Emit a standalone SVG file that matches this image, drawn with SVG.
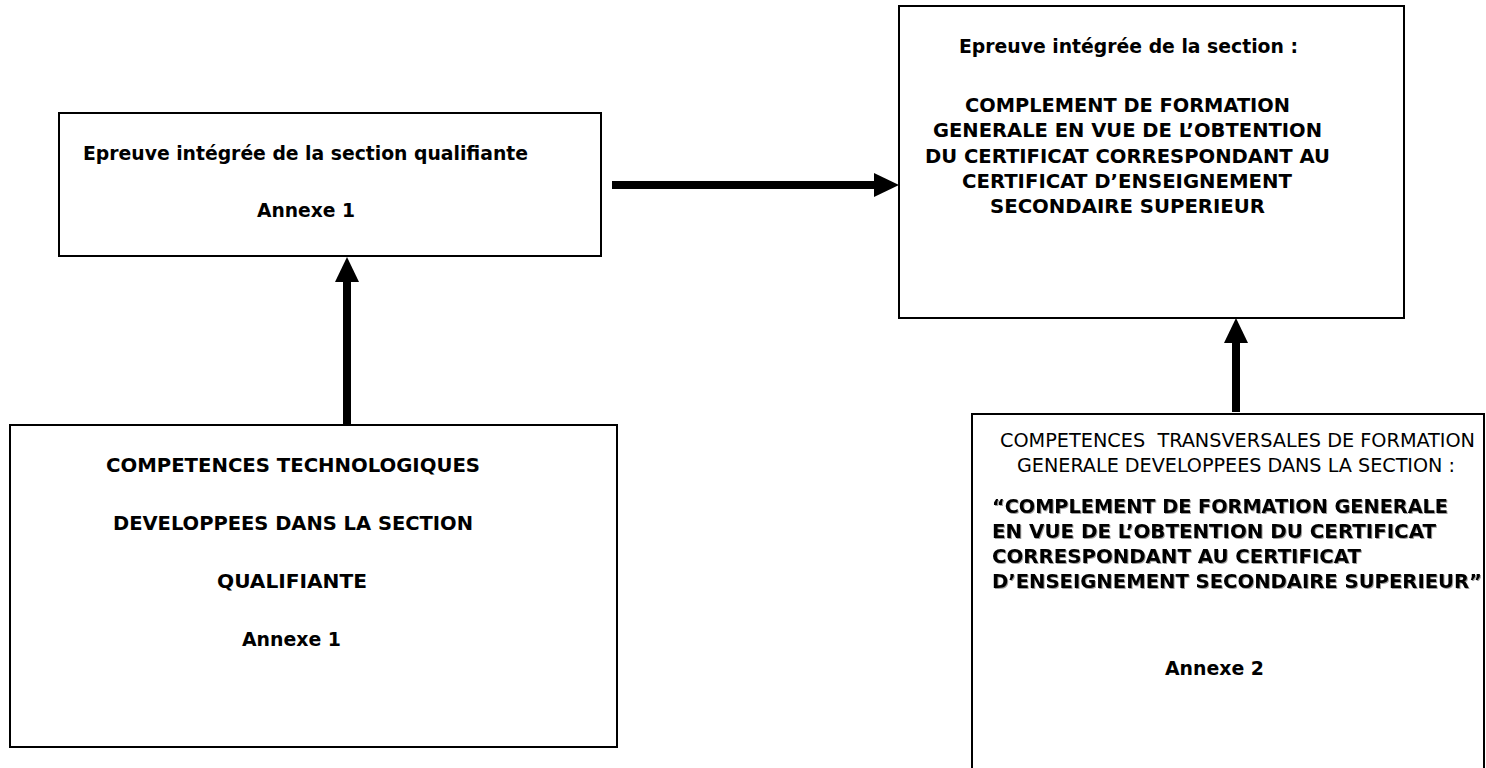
<svg xmlns="http://www.w3.org/2000/svg" width="1486" height="768" viewBox="0 0 1486 768">
<style>
.box{fill:#fff;stroke:#000;stroke-width:2}
.v{font-family:"DejaVu Sans",Verdana,sans-serif;font-weight:bold;font-size:19.5px;fill:#000}
.v2{font-family:"DejaVu Sans",Verdana,sans-serif;font-weight:bold;font-size:19px;fill:#000}
.t{font-family:"DejaVu Sans Condensed","DejaVu Sans",sans-serif;font-weight:bold;font-size:20px;fill:#000}
.r{font-family:"DejaVu Sans Condensed","DejaVu Sans",sans-serif;font-weight:normal;font-size:20px;fill:#000;white-space:pre}
.sh{filter:drop-shadow(1px 1px 0 #a0a0a0)}
.conn{stroke:#000;stroke-width:8;fill:none}
</style>
<defs>
<marker id="ah" markerUnits="userSpaceOnUse" markerWidth="26" markerHeight="24" refX="0" refY="12" orient="auto">
<path d="M0,0 L25,12 L0,24 z" fill="#000"/>
</marker>
</defs>

<g id="node-epreuve-qualifiante">
<rect class="box" x="59" y="113" width="542" height="143"/>
<text class="t" x="83" y="160" textLength="445" lengthAdjust="spacingAndGlyphs">Epreuve intégrée de la section qualifiante</text>
<text class="t" x="257" y="217" textLength="98" lengthAdjust="spacingAndGlyphs">Annexe 1</text>
</g>

<g id="node-epreuve-complement">
<rect class="box" x="899" y="6" width="505" height="312"/>
<text class="v" x="959" y="53" textLength="339" lengthAdjust="spacingAndGlyphs">Epreuve intégrée de la section :</text>
<text class="v" x="965" y="112" textLength="325" lengthAdjust="spacingAndGlyphs">COMPLEMENT DE FORMATION</text>
<text class="v" x="933" y="137" textLength="389" lengthAdjust="spacingAndGlyphs">GENERALE EN VUE DE L’OBTENTION</text>
<text class="v" x="925" y="163" textLength="405" lengthAdjust="spacingAndGlyphs">DU CERTIFICAT CORRESPONDANT AU</text>
<text class="v" x="962" y="188" textLength="330" lengthAdjust="spacingAndGlyphs">CERTIFICAT D’ENSEIGNEMENT</text>
<text class="v" x="990" y="213" textLength="275" lengthAdjust="spacingAndGlyphs">SECONDAIRE SUPERIEUR</text>
</g>

<g id="node-competences-technologiques">
<rect class="box" x="10" y="425" width="607" height="322"/>
<text class="t" x="106" y="472" textLength="374" lengthAdjust="spacingAndGlyphs">COMPETENCES TECHNOLOGIQUES</text>
<text class="t" x="113" y="530" textLength="360" lengthAdjust="spacingAndGlyphs">DEVELOPPEES DANS LA SECTION</text>
<text class="t" x="217" y="588" textLength="150" lengthAdjust="spacingAndGlyphs">QUALIFIANTE</text>
<text class="t" x="242" y="646" textLength="99" lengthAdjust="spacingAndGlyphs">Annexe 1</text>
</g>

<g id="node-competences-transversales">
<rect class="box" x="972" y="414" width="512" height="400"/>
<text class="r" x="1000" y="447" textLength="475" lengthAdjust="spacingAndGlyphs">COMPETENCES  TRANSVERSALES DE FORMATION</text>
<text class="r" x="1017" y="472" textLength="438" lengthAdjust="spacingAndGlyphs">GENERALE DEVELOPPEES DANS LA SECTION :</text>
<g class="sh">
<text class="v2" x="992" y="513" textLength="456" lengthAdjust="spacingAndGlyphs">“COMPLEMENT DE FORMATION GENERALE</text>
<text class="v2" x="992" y="538" textLength="444" lengthAdjust="spacingAndGlyphs">EN VUE DE L’OBTENTION DU CERTIFICAT</text>
<text class="v2" x="992" y="563" textLength="369" lengthAdjust="spacingAndGlyphs">CORRESPONDANT AU CERTIFICAT</text>
<text class="v2" x="992" y="588" textLength="490" lengthAdjust="spacingAndGlyphs">D’ENSEIGNEMENT SECONDAIRE SUPERIEUR”</text>
</g>
<text class="v2" x="1165" y="675" textLength="99" lengthAdjust="spacingAndGlyphs">Annexe 2</text>
</g>

<g id="connectors">
<line class="conn" x1="612" y1="185" x2="874" y2="185" marker-end="url(#ah)"/>
<line class="conn" x1="347" y1="425" x2="347" y2="282" marker-end="url(#ah)"/>
<line class="conn" x1="1236" y1="412" x2="1236" y2="343" marker-end="url(#ah)"/>
</g>
</svg>
